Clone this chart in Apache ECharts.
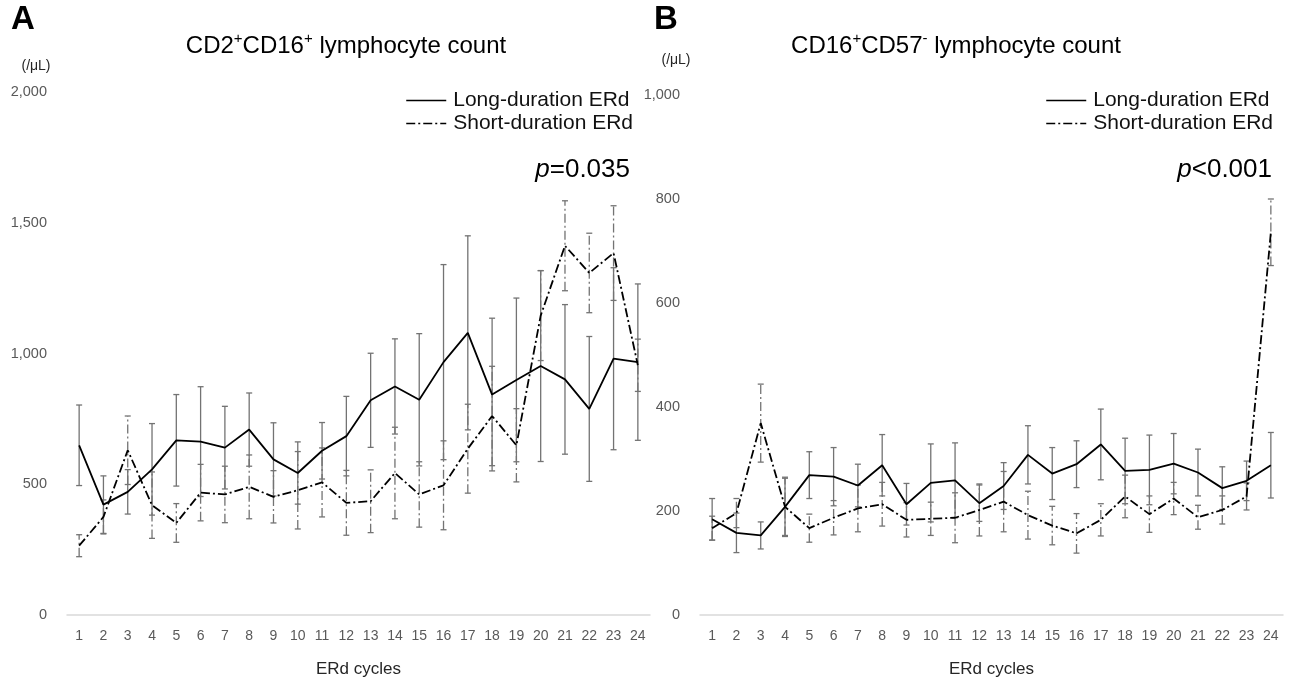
<!DOCTYPE html>
<html>
<head>
<meta charset="utf-8">
<script src="https://cdn.jsdelivr.net/npm/echarts@6/dist/echarts.min.js"></script>
<style>
  html, body { margin: 0; padding: 0; background: #fff; }
  #chart { width: 1293px; height: 685px; }
</style>
</head>
<body>
<div id="chart"></div>
<script>
// ERd cycles on the x axis
const cycles = ['1','2','3','4','5','6','7','8','9','10','11','12',
                '13','14','15','16','17','18','19','20','21','22','23','24'];

// Panel A: CD2+CD16+ lymphocyte count (/uL), mean and error half-width
const longA     = [649, 422, 471, 557, 668, 663, 640, 709, 595, 543, 628, 684, 821, 874, 823, 967, 1079, 843, 899, 952, 901, 788, 980, 967];
const longAErr  = [154, 110, 85, 175, 175, 210, 158, 140, 140, 119, 108, 152, 180, 182, 253, 373, 371, 292, 313, 365, 286, 277, 348, 299];
const shortA    = [265, 375, 630, 420, 352, 468, 461, 490, 452, 477, 507, 429, 435, 543, 461, 496, 636, 761, 649, 1145, 1412, 1308, 1384, 955];
const shortAErr = [42, 65, 131, 127, 74, 108, 108, 122, 100, 148, 132, 124, 120, 175, 125, 170, 170, 190, 140, 172, 172, 152, 181, 100];

// Panel B: CD16+CD57- lymphocyte count (/uL)
const longB     = [184, 158, 153, 208, 269, 266, 249, 288, 213, 254, 259, 215, 248, 308, 272, 290, 328, 277, 279, 291, 274, 244, 258, 288];
const longBErr  = [40, 38, 26, 57, 45, 56, 41, 59, 40, 75, 72, 35, 45, 56, 50, 45, 68, 63, 67, 58, 45, 41, 38, 63];
const shortB    = [167, 196, 369, 208, 167, 187, 205, 213, 183, 185, 187, 202, 218, 192, 172, 157, 183, 228, 194, 224, 188, 202, 228, 736];
const shortBErr = [23, 28, 75, 55, 27, 33, 45, 42, 33, 32, 48, 50, 58, 46, 37, 38, 31, 41, 35, 31, 23, 27, 26, 64];

const FONT = '"Liberation Sans", Arial, Helvetica, sans-serif';
const DASHDOT = [9, 3, 2, 3];
const LONG = 'Long-duration ERd';
const SHORT = 'Short-duration ERd';

function errData(mean, err) {
    return mean.map((m, i) => [i, m - err[i], m + err[i]]);
}

function errRender(dash) {
    return function (params, api) {
        const i = api.value(0);
        const lo = api.coord([i, api.value(1)]);
        const hi = api.coord([i, api.value(2)]);
        const hw = 3;
        const cap = {stroke: '#737373', lineWidth: 1.3};
        return {
            type: 'group',
            children: [
                {type: 'line', shape: {x1: lo[0], y1: lo[1], x2: hi[0], y2: hi[1]},
                 style: {stroke: '#737373', lineWidth: 1.3, lineDash: dash}},
                {type: 'line', shape: {x1: lo[0] - hw, y1: lo[1], x2: lo[0] + hw, y2: lo[1]}, style: cap},
                {type: 'line', shape: {x1: hi[0] - hw, y1: hi[1], x2: hi[0] + hw, y2: hi[1]}, style: cap},
            ],
        };
    };
}

function xAxisFor(gridIndex) {
    return {
        type: 'category',
        gridIndex,
        data: cycles,
        boundaryGap: true,
        axisLine: {lineStyle: {color: '#d9d9d9', width: 1.5}},
        axisTick: {show: false},
        axisLabel: {color: '#595959', fontSize: 14, fontFamily: FONT, margin: 14, interval: 0},
        name: 'ERd cycles',
        nameLocation: 'middle',
        nameGap: 46,
        nameTextStyle: {color: '#262626', fontSize: 17, fontFamily: FONT},
    };
}

function yAxisFor(gridIndex, max, interval) {
    return {
        type: 'value',
        gridIndex,
        min: 0,
        max,
        interval,
        axisLine: {show: false},
        axisTick: {show: false},
        splitLine: {show: false},
        axisLabel: {
            color: '#595959', fontSize: 14.5, fontFamily: FONT, margin: 20,
            formatter: v => v.toLocaleString('en-US'),
        },
    };
}

function panelSeries(idx, long, longErr, short, shortErr) {
    return [
        {
            type: 'custom', name: 'errLong' + idx, xAxisIndex: idx, yAxisIndex: idx,
            renderItem: errRender(null), data: errData(long, longErr), z: 2, silent: true,
        },
        {
            type: 'custom', name: 'errShort' + idx, xAxisIndex: idx, yAxisIndex: idx,
            renderItem: errRender(DASHDOT), data: errData(short, shortErr), z: 2, silent: true,
        },
        {
            type: 'line', name: LONG, xAxisIndex: idx, yAxisIndex: idx, data: long,
            symbol: 'none', lineStyle: {color: '#000', width: 1.8, type: 'solid'},
            itemStyle: {color: '#000'}, z: 3,
        },
        {
            type: 'line', name: SHORT, xAxisIndex: idx, yAxisIndex: idx, data: short,
            symbol: 'none', lineStyle: {color: '#000', width: 1.8, type: DASHDOT},
            itemStyle: {color: '#000'}, z: 3,
        },
    ];
}

function legendFor(right) {
    return {
        data: [LONG, SHORT],
        orient: 'vertical',
        right,
        top: 85,
        itemGap: 2,
        itemWidth: 40,
        itemHeight: 22,
        selectedMode: false,
        itemStyle: {opacity: 0},
        lineStyle: {width: 1.4},
        textStyle: {color: '#111', fontSize: 21, fontFamily: FONT, padding: [0, 0, 0, 2]},
    };
}

const supRich = {
    n: {fontSize: 24, fontFamily: FONT, fill: '#000', lineHeight: 30},
    s: {fontSize: 15, fontFamily: FONT, fill: '#000', verticalAlign: 'top', lineHeight: 30},
};
const pRich = {
    i: {fontSize: 26, fontFamily: FONT, fontStyle: 'italic', fill: '#000'},
    n: {fontSize: 26, fontFamily: FONT, fill: '#000'},
};

function txt(x, y, text, extra) {
    return {
        type: 'text', x, y,
        style: Object.assign({text, fill: '#000', font: '14px ' + FONT, align: 'left', verticalAlign: 'middle'}, extra),
    };
}

const chart = echarts.init(document.getElementById('chart'), null, {renderer: 'canvas'});

chart.setOption({
    animation: false,
    backgroundColor: '#fff',
    grid: [
        {left: 67, right: 643, top: 92, bottom: 70},
        {left: 700, right: 10, top: 95, bottom: 70},
    ],
    xAxis: [xAxisFor(0), xAxisFor(1)],
    yAxis: [yAxisFor(0, 2000, 500), yAxisFor(1, 1000, 200)],
    legend: [legendFor(655), legendFor(15)],
    series: [
        ...panelSeries(0, longA, longAErr, shortA, shortAErr),
        ...panelSeries(1, longB, longBErr, shortB, shortBErr),
    ],
    graphic: [
        txt(11, 20, 'A', {font: 'bold 33px ' + FONT}),
        txt(654, 20, 'B', {font: 'bold 33px ' + FONT}),
        txt(346, 46, '{n|CD2}{s|+}{n|CD16}{s|+}{n| lymphocyte count}', {align: 'center', rich: supRich}),
        txt(956, 46, '{n|CD16}{s|+}{n|CD57}{s|-}{n| lymphocyte count}', {align: 'center', rich: supRich}),
        txt(36, 66, '(/μL)', {align: 'center', font: '14px ' + FONT, fill: '#262626'}),
        txt(676, 60, '(/μL)', {align: 'center', font: '14px ' + FONT, fill: '#262626'}),
        txt(630, 170, '{i|p}{n|=0.035}', {align: 'right', rich: pRich}),
        txt(1272, 170, '{i|p}{n|<0.001}', {align: 'right', rich: pRich}),
    ],
});
</script>
</body>
</html>
